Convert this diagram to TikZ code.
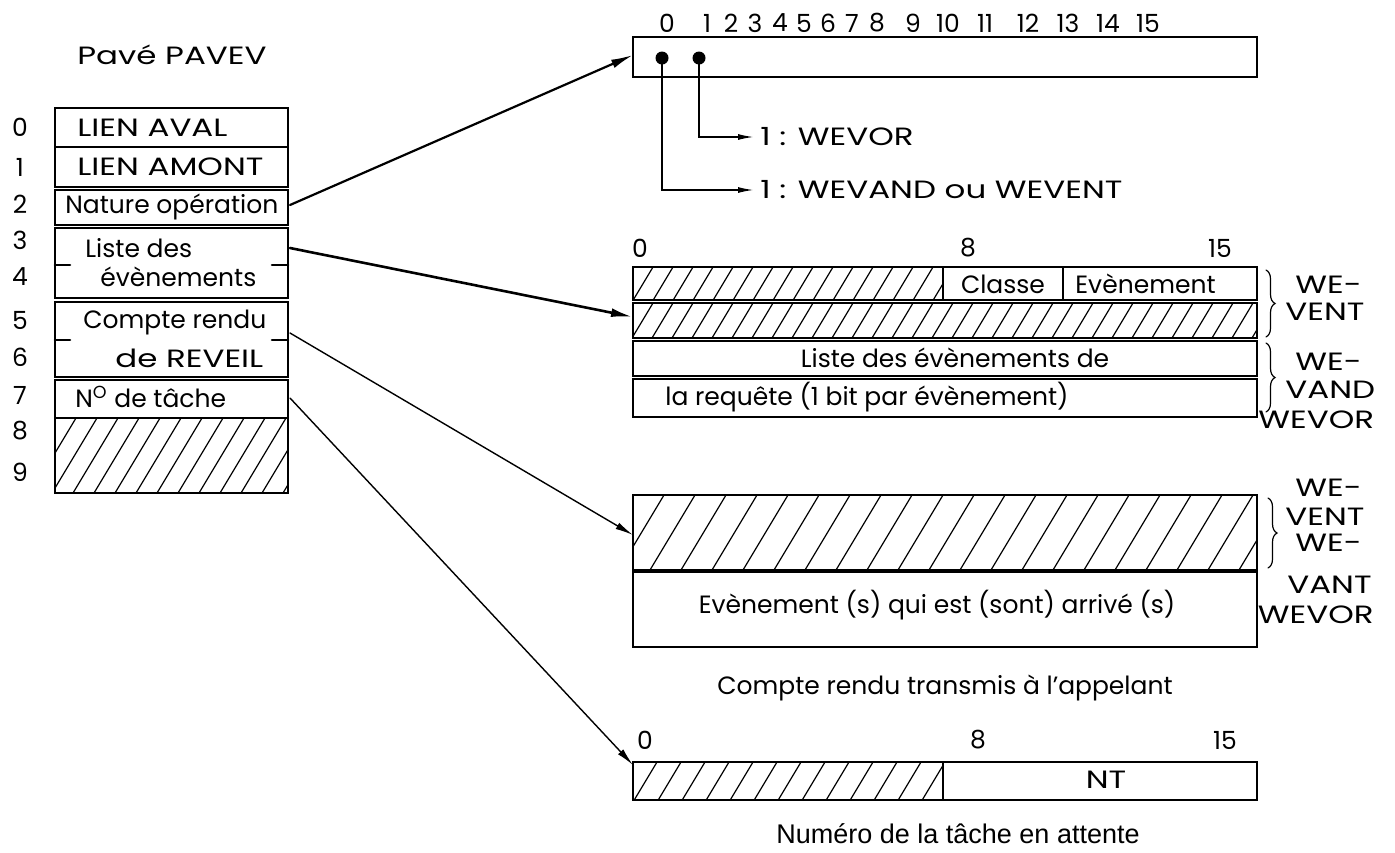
\documentclass[tikz,border=0pt]{standalone}
\usepackage{fontspec}
\setmainfont{Poppins}
\newfontfamily\widefont[FakeStretch=1.3]{Poppins}
\newfontfamily\helv{Liberation Sans}
\usetikzlibrary{arrows.meta,decorations.pathreplacing}

% hatched area: x1, y1 (top), x2, y2 (bottom), step
\newcommand\hatchrect[5]{%
  \begin{scope}
    \clip (#1,#2) rectangle (#3,#4);
    \pgfmathsetmacro\hrun{0.6*(#4-#2)}
    \pgfmathsetmacro\hstart{#1-\hrun}
    \pgfmathsetmacro\hnext{#1-\hrun+#5}
    \foreach \s in {\hstart,\hnext,...,#3}
      \draw[hatch] (\s,#4) -- ++(\hrun,#2-#4);
  \end{scope}}

\begin{document}
\begin{tikzpicture}[x=0.5pt,y=-0.5pt,line cap=round,
  font=\fontsize{12.5}{14}\selectfont,
  caps/.style={font=\widefont\fontsize{12.5}{14}\selectfont},
  cell/.style={line width=1.3pt},
  hatch/.style={line width=.6pt},
  lbl/.style={inner sep=0pt},
  dot/.style={circle,fill,inner sep=0pt,minimum size=6.5pt},
  biglink/.style={line width=1.1pt,-{Latex[length=11pt,width=4.4pt]}},
  link/.style={line width=.7pt,-{Latex[length=9pt,width=3.6pt]}},
  bitlink/.style={line width=.8pt,-{Latex[length=8pt,width=3pt]}},
  brc/.style={decorate,decoration={brace,amplitude=4.5pt},line width=.6pt}]
  \useasboundingbox (0,0) rectangle (1395,852);

  % pave PAVEV
  \node[caps] (titre) at (172,55) {Pavé PAVEV};
  \foreach \t/\b in {108/147,147/187,190/225,228/298,302/377,380/418}
    \draw[cell] (55,\t) rectangle (288,\b);
  \hatchrect{55}{418}{288}{493}{21}
  \draw[cell] (55,418) rectangle (288,493);
  \foreach \y in {265,340} {
    \draw[cell] (55,\y) -- (70,\y);
    \draw[cell] (272,\y) -- (288,\y);
  }
  \foreach \n/\y in {0/127,1/167,2/204,3/240,4/277,5/320,6/357,7/395,8/431,9/472}
    \node (mot\n) at (20,\y) {\n};
  \node[lbl,caps,anchor=west] (aval) at (77,128) {LIEN AVAL};
  \node[lbl,caps,anchor=west] (amont) at (77,167) {LIEN AMONT};
  \node[lbl,anchor=west] (nature) at (65,207) {Nature opération};
  \node[lbl,anchor=west] (liste) at (85,248) {Liste des};
  \node[lbl,anchor=west] (evts) at (100,277) {évènements};
  \node[lbl,anchor=west] (compte) at (83,322) {Compte rendu};
  \node[lbl,caps,anchor=west] (reveil) at (115,358) {de REVEIL};
  \node[lbl,anchor=west] (tache) at (75,397) {N\textsuperscript{O} de tâche};

  % nature de l'operation
  \foreach \n/\x in {0/667,1/707,2/731,3/755,4/780,5/804,6/828,7/852,8/877,
      9/913,10/948,11/985,12/1028,13/1068,14/1108,15/1148}
    \node (bit\n) at (\x,23) {\n};
  \draw[cell] (633,37) rectangle (1257,77);
  \node[dot] (d0) at (662,58) {};
  \node[dot] (d1) at (699,58) {};
  \node[lbl,caps,anchor=west] (wevor) at (760,137) {1 : WEVOR};
  \node[lbl,caps,anchor=west] (wevand) at (760,190) {1 : WEVAND ou WEVENT};
  \draw[bitlink] (d1.center) |- ([xshift=-3pt]wevor.west);
  \draw[bitlink] (d0.center) |- ([xshift=-3pt]wevand.west);

  % liste des evenements
  \node (l0) at (640,248) {0};
  \node (l8) at (968,248) {8};
  \node (l15) at (1220,248) {15};
  \hatchrect{633}{267}{943}{300}{20}
  \hatchrect{633}{303}{1257}{338}{20}
  \foreach \t/\b in {267/300,303/338,341/376,379/417}
    \draw[cell] (633,\t) rectangle (1257,\b);
  \draw[line width=.8pt] (943,267) -- (943,300) (1063,267) -- (1063,300);
  \node (classe) at (1003,284) {Classe};
  \node[lbl,anchor=west] (evt) at (1075,284) {Evènement};
  \node (req1) at (955,358) {Liste des évènements de};
  \node[lbl,anchor=west] (req2) at (665,397) {la requête (1 bit par évènement)};
  \draw[brc] (1266,270) -- (1266,337);
  \draw[brc] (1266,343) -- (1266,412);
  \node[lbl,caps,anchor=west] (we1) at (1295,285) {WE-};
  \node[lbl,caps,anchor=west] (vent1) at (1285,312) {VENT};
  \node[lbl,caps,anchor=west] (we2) at (1295,362) {WE-};
  \node[lbl,caps,anchor=west] (vand) at (1285,390) {VAND};
  \node[lbl,caps,anchor=west] (wevor1) at (1258,420) {WEVOR};

  % compte rendu
  \hatchrect{633}{495}{1257}{570}{31}
  \draw[cell] (633,495) rectangle (1257,570);
  \draw[cell] (633,572) rectangle (1257,647);
  \node (arrive) at (937,605) {Evènement (s) qui est (sont) arrivé (s)};
  \draw[brc] (1268,498) -- (1268,568);
  \node[lbl,caps,anchor=west] (we3) at (1295,488) {WE-};
  \node[lbl,caps,anchor=west] (vent2) at (1285,517) {VENT};
  \node[lbl,caps,anchor=west] (we4) at (1295,543) {WE-};
  \node[lbl,caps,anchor=east] (vant) at (1372,585) {VANT};
  \node[lbl,caps,anchor=east] (wevor2) at (1374,615) {WEVOR};
  \node (crt) at (945,688) {Compte rendu transmis à l’appelant};

  % numero de tache
  \node (t0) at (645,740) {0};
  \node (t8) at (978,740) {8};
  \node (t15) at (1225,740) {15};
  \hatchrect{633}{762}{943}{800}{24}
  \draw[cell] (633,762) rectangle (1257,800);
  \draw[line width=.8pt] (943,762) -- (943,800);
  \node[caps] (nt) at (1106,780) {NT};
  \node[font=\helv\fontsize{13.5}{16}\selectfont] (attente) at (958,834)
    {Numéro de la tâche en attente};

  % liens
  \coordinate (natE) at (290,205);
  \coordinate (regW) at (633,55);
  \coordinate (listE) at (290,248);
  \coordinate (listW) at (633,317);
  \coordinate (crE) at (290,333);
  \coordinate (crW) at (633,535);
  \coordinate (ntE) at (290,398);
  \coordinate (ntW) at (633,765);
  \draw[biglink] (natE) -- (regW);
  \draw[biglink,line width=1.3pt] (listE) -- (listW);
  \draw[link] (crE) -- (crW);
  \draw[link] (ntE) -- (ntW);
\end{tikzpicture}
\end{document}
